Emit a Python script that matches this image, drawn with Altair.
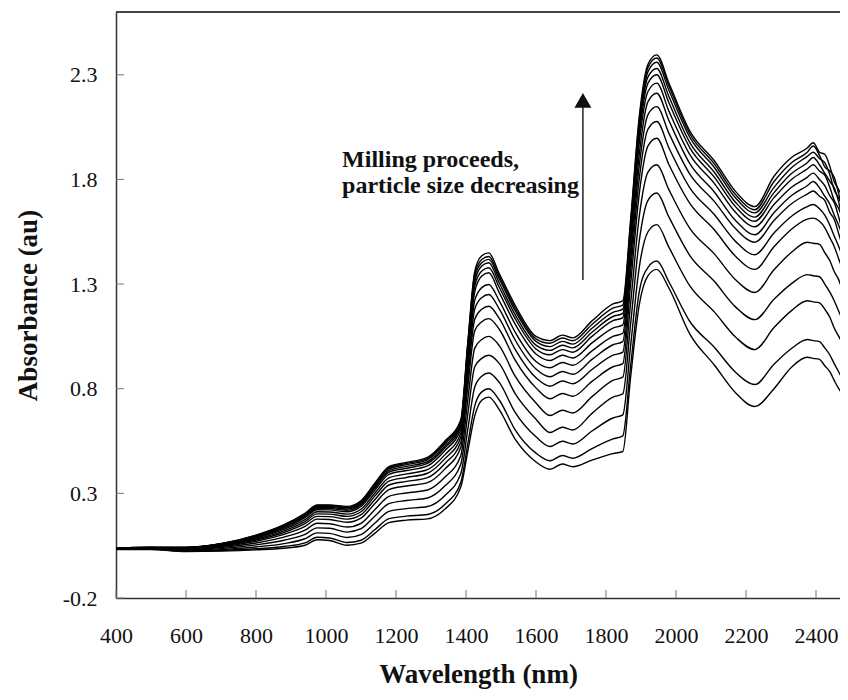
import altair as alt
import pandas as pd

# ---------------- data ----------------
WAVELENGTH_NM = [400, 500, 600, 700, 800, 880, 940, 975, 1010, 1060, 1100, 1140, 1180, 1230,
                 1290, 1340, 1385, 1405, 1425, 1445, 1465, 1495, 1540, 1600, 1640, 1675, 1705,
                 1760, 1820, 1848, 1870, 1895, 1920, 1945, 1980, 2040, 2110, 2170, 2225, 2280,
                 2330, 2375, 2392, 2410, 2425, 2440, 2452, 2465, 2478, 2490]

# one row per wavelength, 15 spectra (milling stages, lowest -> highest)
ABSORBANCE = [
    [.032, .033, .034, .035, .036, .037, .037, .038, .038, .039, .039, .039, .040, .040, .040],
    [.032, .033, .034, .035, .037, .038, .039, .039, .040, .041, .041, .041, .042, .042, .042],
    [.022, .023, .026, .029, .031, .034, .035, .037, .038, .039, .040, .041, .041, .042, .042],
    [.024, .027, .031, .036, .041, .045, .048, .051, .053, .055, .056, .058, .059, .059, .060],
    [.030, .035, .044, .054, .063, .071, .077, .082, .086, .090, .093, .095, .097, .099, .100],
    [.038, .046, .060, .076, .091, .104, .113, .121, .128, .134, .139, .142, .146, .148, .150],
    [.052, .063, .083, .104, .124, .142, .155, .165, .174, .184, .190, .194, .199, .202, .205],
    [.078, .090, .111, .135, .157, .177, .190, .202, .212, .222, .228, .233, .238, .242, .245],
    [.075, .087, .109, .133, .155, .175, .189, .201, .211, .221, .228, .233, .238, .242, .245],
    [.052, .065, .089, .115, .139, .162, .177, .190, .201, .212, .219, .225, .231, .234, .238],
    [.062, .076, .103, .131, .157, .182, .198, .212, .224, .237, .245, .251, .257, .261, .265],
    [.110, .127, .158, .192, .223, .252, .271, .288, .302, .316, .326, .333, .340, .345, .350],
    [.160, .179, .214, .251, .286, .318, .340, .358, .374, .391, .401, .409, .417, .423, .428],
    [.172, .191, .227, .266, .302, .335, .357, .376, .393, .409, .420, .429, .437, .443, .448],
    [.178, .199, .237, .278, .316, .351, .375, .396, .413, .431, .443, .451, .460, .466, .472],
    [.225, .248, .290, .336, .378, .417, .443, .466, .485, .505, .518, .527, .537, .544, .550],
    [.330, .352, .394, .439, .480, .519, .544, .567, .586, .605, .618, .628, .637, .644, .650],
    [.500, .536, .604, .677, .744, .807, .848, .885, .916, .947, .968, .984, .999, 1.010, 1.020],
    [.670, .718, .808, .905, .994, 1.077, 1.132, 1.181, 1.222, 1.263, 1.291, 1.312, 1.332, 1.346, 1.360],
    [.745, .785, .860, .945, 1.035, 1.120, 1.180, 1.235, 1.283, 1.338, 1.362, 1.386, 1.402, 1.417, 1.435],
    [.760, .800, .875, .960, 1.050, 1.135, 1.194, 1.250, 1.298, 1.354, 1.378, 1.402, 1.418, 1.432, 1.449],
    [.700, .746, .830, .921, 1.006, 1.084, 1.136, 1.181, 1.220, 1.259, 1.285, 1.305, 1.324, 1.337, 1.350],
    [.560, .605, .688, .778, .861, .938, .989, 1.034, 1.072, 1.110, 1.136, 1.155, 1.174, 1.187, 1.200],
    [.450, .492, .570, .654, .732, .804, .852, .894, .930, .966, .990, 1.008, 1.026, 1.038, 1.050],
    [.415, .456, .524, .591, .672, .752, .812, .857, .900, .935, .962, .983, 1.001, 1.017, 1.030],
    [.440, .481, .549, .616, .697, .777, .837, .882, .925, .960, .987, 1.008, 1.026, 1.042, 1.056],
    [.427, .468, .536, .603, .684, .764, .824, .869, .912, .947, .974, .995, 1.013, 1.029, 1.043],
    [.459, .514, .598, .682, .762, .835, .892, .940, .981, 1.019, 1.050, 1.070, 1.089, 1.107, 1.124],
    [.490, .560, .660, .760, .840, .905, .960, 1.010, 1.050, 1.090, 1.125, 1.145, 1.165, 1.185, 1.205],
    [.500, .575, .675, .775, .855, .920, .975, 1.025, 1.065, 1.105, 1.140, 1.160, 1.180, 1.200, 1.220],
    [.850, .903, 1.000, 1.105, 1.203, 1.293, 1.353, 1.405, 1.450, 1.495, 1.525, 1.548, 1.570, 1.585, 1.600],
    [1.200, 1.263, 1.380, 1.506, 1.623, 1.731, 1.803, 1.866, 1.920, 1.974, 2.010, 2.037, 2.064, 2.082, 2.100],
    [1.340, 1.380, 1.550, 1.700, 1.835, 1.960, 2.040, 2.110, 2.172, 2.220, 2.260, 2.290, 2.315, 2.335, 2.350],
    [1.370, 1.410, 1.584, 1.735, 1.870, 1.997, 2.077, 2.148, 2.212, 2.260, 2.300, 2.330, 2.360, 2.380, 2.395],
    [1.280, 1.310, 1.475, 1.620, 1.750, 1.870, 1.950, 2.020, 2.080, 2.125, 2.165, 2.195, 2.225, 2.245, 2.260],
    [1.060, 1.120, 1.290, 1.435, 1.565, 1.684, 1.759, 1.824, 1.874, 1.917, 1.950, 1.975, 2.000, 2.016, 2.030],
    [.912, .997, 1.166, 1.312, 1.443, 1.558, 1.631, 1.694, 1.739, 1.780, 1.810, 1.833, 1.856, 1.873, 1.888],
    [.781, .879, 1.047, 1.191, 1.321, 1.433, 1.504, 1.565, 1.604, 1.643, 1.670, 1.691, 1.712, 1.728, 1.743],
    [.715, .820, .987, 1.130, 1.260, 1.370, 1.440, 1.500, 1.536, 1.574, 1.600, 1.620, 1.640, 1.655, 1.670],
    [.800, .917, 1.092, 1.227, 1.368, 1.478, 1.544, 1.604, 1.641, 1.680, 1.713, 1.737, 1.762, 1.790, 1.815],
    [.903, .992, 1.173, 1.302, 1.452, 1.562, 1.624, 1.684, 1.723, 1.763, 1.800, 1.828, 1.856, 1.880, 1.905],
    [.950, 1.035, 1.220, 1.345, 1.500, 1.610, 1.670, 1.730, 1.770, 1.810, 1.850, 1.880, 1.910, 1.930, 1.950],
    [.945, 1.030, 1.215, 1.340, 1.495, 1.615, 1.680, 1.745, 1.790, 1.830, 1.870, 1.905, 1.930, 1.960, 1.975],
    [.940, 1.025, 1.210, 1.335, 1.490, 1.600, 1.660, 1.720, 1.760, 1.800, 1.840, 1.870, 1.900, 1.915, 1.930],
    [.910, .995, 1.180, 1.300, 1.450, 1.570, 1.630, 1.700, 1.720, 1.770, 1.820, 1.830, 1.880, 1.860, 1.920],
    [.880, .960, 1.140, 1.260, 1.410, 1.520, 1.580, 1.640, 1.680, 1.720, 1.760, 1.790, 1.820, 1.840, 1.860],
    [.840, .920, 1.090, 1.220, 1.360, 1.480, 1.530, 1.610, 1.630, 1.690, 1.700, 1.760, 1.750, 1.810, 1.790],
    [.800, .880, 1.050, 1.170, 1.320, 1.420, 1.480, 1.540, 1.580, 1.620, 1.660, 1.690, 1.710, 1.730, 1.750],
    [.770, .840, 1.010, 1.120, 1.260, 1.360, 1.420, 1.470, 1.520, 1.540, 1.600, 1.590, 1.660, 1.640, 1.700],
    [.740, .810, .970, 1.080, 1.210, 1.300, 1.360, 1.410, 1.450, 1.480, 1.510, 1.540, 1.560, 1.580, 1.600],
]

STAGES = [f"stage {i + 1:02d}" for i in range(15)]

X_TICKS = [400, 600, 800, 1000, 1200, 1400, 1600, 1800, 2000, 2200, 2400]
Y_TICKS = [-0.2, 0.3, 0.8, 1.3, 1.8, 2.3]

ANNOTATION_LINES = ["Milling proceeds,", "particle size decreasing"]

# ---------------- tables ----------------
records = []
for wl, row in zip(WAVELENGTH_NM, ABSORBANCE):
    for stage, val in zip(STAGES, row):
        records.append({"wavelength": wl, "stage": stage, "absorbance": val})
df = pd.DataFrame(records)

W, H = 724, 586
X_MAX = 400 + W / 0.35  # same 0.35 px/nm as the reference
FONT = "Liberation Serif"

xscale = alt.Scale(domain=[400, X_MAX], nice=False, zero=False)
yscale = alt.Scale(domain=[-0.2, 2.6], nice=False, zero=False)

X_AXIS = alt.Axis(values=X_TICKS, format="d", title="Wavelength (nm)", ticks=False,
                  labelFlush=False, labelPadding=27, titleY=84, titleBaseline="alphabetic",
                  grid=False)
Y_AXIS = alt.Axis(values=Y_TICKS, title="Absorbance (au)", ticks=False, labelPadding=19,
                  labelFlush=False,
                  labelExpr="datum.value < 0 ? '-' + format(-datum.value, '.1f') : format(datum.value, '.1f')",
                  titleX=-80, titleY=H / 2, titleAngle=270, titleBaseline="alphabetic",
                  titleAlign="center", grid=False)


def xenc(field):
    return alt.X(field, scale=xscale, axis=X_AXIS)


def yenc(field):
    return alt.Y(field, scale=yscale, axis=Y_AXIS)


lines = alt.Chart(df).mark_line(
    color="black", strokeWidth=1.4, interpolate="monotone", clip=True
).encode(
    x=xenc("wavelength:Q"),
    y=yenc("absorbance:Q"),
    detail="stage:N",
)

xticks = alt.Chart(pd.DataFrame({"t": X_TICKS})).mark_rule(color="#777", strokeWidth=1).encode(
    x=xenc("t:Q"), y=alt.value(H), y2=alt.value(H - 8)
)
yticks = alt.Chart(pd.DataFrame({"t": Y_TICKS})).mark_rule(color="#777", strokeWidth=1).encode(
    y=yenc("t:Q"), x=alt.value(0), x2=alt.value(8)
)

top_border = alt.Chart(pd.DataFrame({"a": [0]})).mark_rule(color="#444", strokeWidth=2).encode(
    x=alt.value(0), x2=alt.value(W), y=alt.value(0)
)

arrow_df = pd.DataFrame({"x": [1734], "y": [1.3195], "y2": [2.17]})
arrow_shaft = alt.Chart(arrow_df).mark_rule(color="#222", strokeWidth=1.5).encode(
    x=xenc("x:Q"), y=yenc("y:Q"), y2="y2:Q"
)
head_df = pd.DataFrame({"x": [1734], "y": [2.1776]})
arrow_head = alt.Chart(head_df).mark_point(
    shape="triangle-up", filled=True, size=289, color="#111", opacity=1, strokeWidth=0
).encode(x=xenc("x:Q"), y=yenc("y:Q"))

text_df = pd.DataFrame({"x": [1046, 1046], "y": [1.859, 1.733], "text": ANNOTATION_LINES})
annotation = alt.Chart(text_df).mark_text(
    align="left", baseline="alphabetic", font=FONT, fontWeight="bold", fontSize=24, color="#111"
).encode(x=xenc("x:Q"), y=yenc("y:Q"), text="text:N")

chart = alt.layer(lines, xticks, yticks, top_border, arrow_shaft, arrow_head, annotation).properties(
    width=W, height=H,
    padding={"left": 108, "top": 4, "right": 0, "bottom": 94},
    autosize="none",
).configure_view(stroke=None).configure_axis(
    domainColor="#333", domainWidth=1.5,
    labelFont=FONT, labelFontSize=22, labelColor="#111",
    titleFont=FONT, titleFontSize=27, titleFontWeight="bold", titleColor="#111",
)

chart.save("out.html", embed_options={"renderer": "svg", "actions": False})
